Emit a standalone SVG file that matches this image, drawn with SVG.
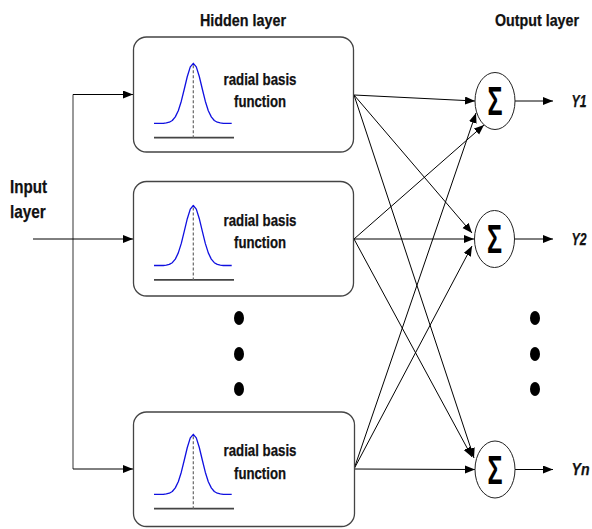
<svg xmlns="http://www.w3.org/2000/svg" xmlns:xlink="http://www.w3.org/1999/xlink" width="592" height="529" viewBox="0 0 592 529">
  <style>
    .lbl { font-family: "Liberation Sans Narrow", "Liberation Sans", Arial, sans-serif; font-weight: bold; fill: #111; stroke: #111; stroke-width: 0.25; }
    .title { font-size: 16.5px; }
    .fn { font-size: 16px; text-anchor: middle; }
    .y { font-size: 16px; font-style: italic; }
    .box { fill: #fff; stroke: #444; stroke-width: 1.3; }
    .sum { fill: #fff; stroke: #222; stroke-width: 1; }
    .sig { font-family: "Liberation Sans", Arial, sans-serif; font-size: 40px; font-weight: bold; text-anchor: middle; fill: #000; }
    .wire { fill: none; stroke: #000; stroke-width: 1; }
    .bus { fill: none; stroke: #555; stroke-width: 1.2; }
    .gauss { fill: none; stroke: #1010e0; stroke-width: 1.3; stroke-linejoin: round; }
    .axis { stroke: #444; stroke-width: 1.8; }
    .mid { stroke: #666; stroke-width: 1.2; stroke-dasharray: 3 2; }
    .dot { fill: #000; }
  </style>
  <defs>
    <marker id="arrow" markerUnits="userSpaceOnUse" markerWidth="11" markerHeight="9" refX="10" refY="4" orient="auto">
      <path d="M0,0 L10,4 L0,8 z" fill="#000"/>
    </marker>
    <!-- radial basis curve: origin at curve centre on its baseline -->
    <g id="rbf">
      <line class="axis" x1="-39.3" y1="14.4" x2="40.7" y2="14.4"/>
      <line class="mid" x1="0" y1="-58" x2="0" y2="14.4"/>
      <polyline class="gauss" points="-39.3,0 -30,0 -27,-0.4 -24,-1.1 -21,-2.8 -18,-6.4 -15,-12.6 -12,-22.1 -9,-34.3 -6,-46.8 -3,-56.4 0,-60 3,-56.4 6,-46.8 9,-34.3 12,-22.1 15,-12.6 18,-6.4 21,-2.8 24,-1.1 27,-0.4 30,0 38.4,0"/>
    </g>
  </defs>

  <!-- layer titles -->
  <text class="lbl title" x="243" y="26" text-anchor="middle" textLength="86" lengthAdjust="spacingAndGlyphs">Hidden layer</text>
  <text class="lbl title" x="537" y="26" text-anchor="middle" textLength="84" lengthAdjust="spacingAndGlyphs">Output layer</text>
  <g id="input-layer">
    <text class="lbl" font-size="18.5" x="10" y="192.7" textLength="37" lengthAdjust="spacingAndGlyphs">Input</text>
    <text class="lbl" font-size="18.5" x="10" y="218" textLength="35.7" lengthAdjust="spacingAndGlyphs">layer</text>
  </g>

  <!-- connectors -->
  <g id="connectors">
    <line class="bus" x1="73" y1="94.5" x2="73" y2="469"/>
    <line class="wire" x1="33" y1="239" x2="133" y2="239" marker-end="url(#arrow)"/>
    <line class="wire" x1="73" y1="94.5" x2="133" y2="94.5" marker-end="url(#arrow)"/>
    <line class="wire" x1="73" y1="469" x2="133" y2="469" marker-end="url(#arrow)"/>

    <line class="wire" x1="354" y1="95" x2="475" y2="101" marker-end="url(#arrow)"/>
    <line class="wire" x1="354" y1="95" x2="472" y2="233" marker-end="url(#arrow)"/>
    <line class="wire" x1="354" y1="95" x2="474" y2="458" marker-end="url(#arrow)"/>

    <line class="wire" x1="354" y1="239" x2="484" y2="125" marker-end="url(#arrow)"/>
    <line class="wire" x1="354" y1="239" x2="474" y2="239" marker-end="url(#arrow)"/>
    <line class="wire" x1="354" y1="239" x2="472" y2="457" marker-end="url(#arrow)"/>

    <line class="wire" x1="354" y1="469" x2="476" y2="113" marker-end="url(#arrow)"/>
    <line class="wire" x1="354" y1="469" x2="472" y2="246" marker-end="url(#arrow)"/>
    <line class="wire" x1="354" y1="469" x2="475" y2="469.5" marker-end="url(#arrow)"/>

    <line class="wire" x1="515" y1="101" x2="553" y2="101" marker-end="url(#arrow)"/>
    <line class="wire" x1="514.5" y1="239" x2="553" y2="239" marker-end="url(#arrow)"/>
    <line class="wire" x1="515" y1="469.5" x2="553" y2="469.5" marker-end="url(#arrow)"/>
  </g>

  <!-- hidden layer nodes -->
  <g id="hidden-1">
    <rect class="box" x="133.5" y="37" width="220" height="115" rx="13"/>
    <use xlink:href="#rbf" href="#rbf" transform="translate(193.3,123.3)"/>
    <text class="lbl fn" x="260" y="85" textLength="73" lengthAdjust="spacingAndGlyphs">radial basis</text>
    <text class="lbl fn" x="260" y="107" textLength="52" lengthAdjust="spacingAndGlyphs">function</text>
  </g>
  <g id="hidden-2">
    <rect class="box" x="133.5" y="181.5" width="220" height="114.5" rx="13"/>
    <use xlink:href="#rbf" href="#rbf" transform="translate(193.3,265.5)"/>
    <text class="lbl fn" x="260" y="226" textLength="73" lengthAdjust="spacingAndGlyphs">radial basis</text>
    <text class="lbl fn" x="260" y="248" textLength="52" lengthAdjust="spacingAndGlyphs">function</text>
  </g>
  <g id="hidden-n">
    <rect class="box" x="133.5" y="412" width="221" height="114.5" rx="13"/>
    <use xlink:href="#rbf" href="#rbf" transform="translate(193.3,494.3)"/>
    <text class="lbl fn" x="260" y="455.5" textLength="73" lengthAdjust="spacingAndGlyphs">radial basis</text>
    <text class="lbl fn" x="260" y="478.5" textLength="52" lengthAdjust="spacingAndGlyphs">function</text>
  </g>

  <!-- ellipsis dots -->
  <g id="dots-hidden">
    <ellipse class="dot" cx="239" cy="318" rx="5" ry="7"/>
    <ellipse class="dot" cx="239" cy="354" rx="5" ry="7"/>
    <ellipse class="dot" cx="239" cy="389" rx="5" ry="7"/>
  </g>
  <g id="dots-output">
    <ellipse class="dot" cx="535" cy="318" rx="5" ry="7"/>
    <ellipse class="dot" cx="535" cy="354" rx="5" ry="7"/>
    <ellipse class="dot" cx="535" cy="389" rx="5" ry="7"/>
  </g>

  <!-- output summation nodes -->
  <g id="sum-1">
    <ellipse class="sum" cx="495" cy="101" rx="20" ry="28.5"/>
    <text class="sig" x="495" y="115.3" textLength="15" lengthAdjust="spacingAndGlyphs">Σ</text>
  </g>
  <g id="sum-2">
    <ellipse class="sum" cx="494.5" cy="239" rx="20" ry="28.5"/>
    <text class="sig" x="494.5" y="253.3" textLength="15" lengthAdjust="spacingAndGlyphs">Σ</text>
  </g>
  <g id="sum-n">
    <ellipse class="sum" cx="495" cy="469.5" rx="20" ry="28.5"/>
    <text class="sig" x="495" y="483.8" textLength="15" lengthAdjust="spacingAndGlyphs">Σ</text>
  </g>

  <!-- outputs -->
  <g id="outputs">
    <text class="lbl y" x="571.5" y="106.5" textLength="15" lengthAdjust="spacingAndGlyphs">Y1</text>
    <text class="lbl y" x="571.5" y="244.5" textLength="15" lengthAdjust="spacingAndGlyphs">Y2</text>
    <text class="lbl y" x="571.5" y="475" textLength="18" lengthAdjust="spacingAndGlyphs">Yn</text>
  </g>
</svg>
